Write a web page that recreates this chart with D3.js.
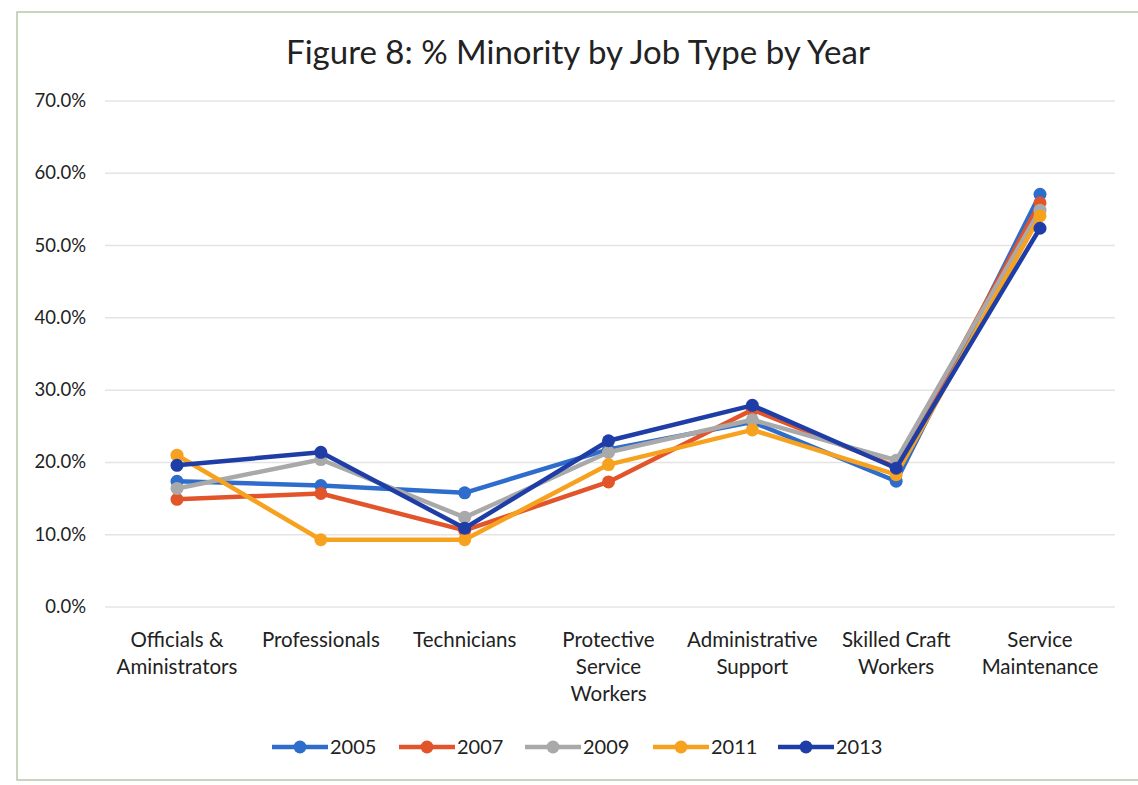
<!DOCTYPE html>
<html><head><meta charset="utf-8">
<script src="https://cdn.jsdelivr.net/npm/d3@7"></script>
<style>body{margin:0;background:#fff}svg{display:block}text{font-family:Lato,"Open Sans",sans-serif;fill:#222}</style>
</head><body><svg id="c" width="1138" height="785"></svg>
<script>
const categories = [["Officials &","Aministrators"],["Professionals"],["Technicians"],["Protective","Service","Workers"],["Administrative","Support"],["Skilled Craft","Workers"],["Service","Maintenance"]];
const years = ["2005","2007","2009","2011","2013"];
const v2005 = [17.4, 16.8, 15.8, 21.8, 25.6, 17.4, 57.1];
const v2007 = [14.9, 15.7, 10.6, 17.3, 27.3, 19.4, 55.9];
const v2009 = [16.4, 20.4, 12.4, 21.4, 25.9, 20.3, 54.9];
const v2011 = [21.0, 9.3, 9.3, 19.7, 24.5, 18.3, 54.1];
const v2013 = [19.6, 21.4, 10.9, 23.0, 27.9, 19.2, 52.4];
const yTicks = [0,10,20,30,40,50,60,70];
const series = [v2005, v2007, v2009, v2011, v2013];
const colors = ["#2f6dcc","#e2552b","#a9a9a9","#f7a21f","#1f3da6"];

const svg = d3.select("#c");
svg.append("rect").attr("x",17).attr("y",12).attr("width",1125).attr("height",768).attr("fill","#fff").attr("stroke","#b9c7a8").attr("stroke-width",1.5);
svg.append("text").attr("x",578).attr("y",64).attr("text-anchor","middle").attr("font-size",33).text("Figure 8: % Minority by Job Type by Year");

const x = d3.scalePoint().domain(d3.range(categories.length)).range([177,1040]);
const y = d3.scaleLinear().domain([0,70]).range([607,101]);

svg.append("g").selectAll("line").data(yTicks).join("line")
  .attr("x1",105).attr("x2",1115).attr("y1",d=>y(d)).attr("y2",d=>y(d))
  .attr("stroke","#e4e4e4").attr("stroke-width",1.5);
svg.append("g").selectAll("text").data(yTicks).join("text")
  .attr("x",86).attr("y",d=>y(d)+6).attr("text-anchor","end").attr("font-size",18.5)
  .text(d=>d.toFixed(1)+"%");

const cl = svg.append("g").selectAll("text").data(categories).join("text")
  .attr("text-anchor","middle").attr("font-size",20.5);
cl.each(function(lines,i){
  d3.select(this).selectAll("tspan").data(lines).join("tspan")
    .attr("x",x(i)).attr("y",(d,j)=>647+j*27).text(d=>d);
});

const line = d3.line().x((d,i)=>x(i)).y(d=>y(d));
series.forEach((s,k)=>{
  const g = svg.append("g");
  g.append("path").datum(s).attr("d",line).attr("fill","none").attr("stroke",colors[k]).attr("stroke-width",4.5).attr("stroke-linejoin","round");
  g.selectAll("circle").data(s).join("circle").attr("cx",(d,i)=>x(i)).attr("cy",d=>y(d)).attr("r",6.5).attr("fill",colors[k]);
});

const lx = [272,399,525,653,778];
const lg = svg.append("g");
years.forEach((yr,k)=>{
  lg.append("line").attr("x1",lx[k]).attr("x2",lx[k]+56).attr("y1",747).attr("y2",747).attr("stroke",colors[k]).attr("stroke-width",4.5);
  lg.append("circle").attr("cx",lx[k]+28).attr("cy",747).attr("r",6.5).attr("fill",colors[k]);
  lg.append("text").attr("x",lx[k]+58).attr("y",754).attr("font-size",20).text(yr);
});
</script></body></html>
